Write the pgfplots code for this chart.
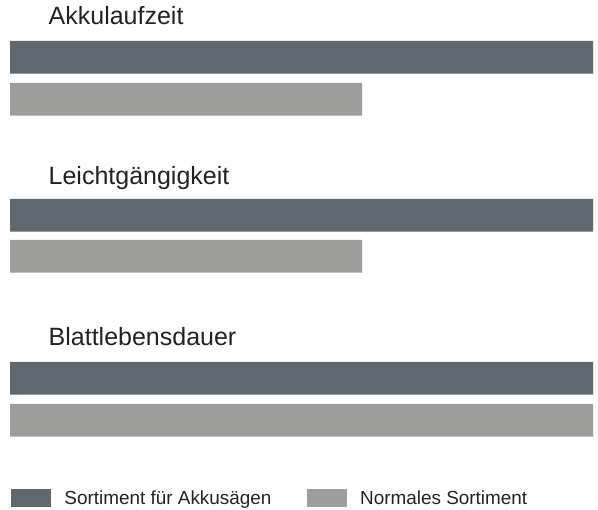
\documentclass[border=0pt]{standalone}
\usepackage{fontspec}
\setmainfont{Liberation Sans}
\usepackage{pgfplots}
\pgfplotsset{compat=1.18}
\definecolor{darkbar}{HTML}{5E686E}
\definecolor{graybar}{HTML}{9D9D9B}
\definecolor{txt}{HTML}{222222}
\begin{document}
\begin{tikzpicture}
\begin{axis}[
  name=ax,
  scale only axis,
  width=598bp, height=510bp,
  xmin=-1.7153, xmax=100.857,
  ymin=0, ymax=510,
  y dir=reverse,
  hide axis,
  clip=false,
  legend columns=2,
  legend image code/.code={\fill[#1] (0bp,-8.8bp) rectangle (40bp,8.8bp);},
  legend style={draw=none, fill=none, at={(axis cs:0.17,498)}, anchor=west,
    inner sep=0pt, outer sep=0pt,
    font=\fontsize{18.9bp}{22bp}\selectfont\color{txt},
    nodes={inner sep=0pt, text depth=0pt},
    cells={anchor=west},
    /tikz/every odd column/.append style={column sep=13.5bp},
    /tikz/every even column/.append style={column sep=35.3bp}},
]
\addplot[xbar, bar shift=0pt, bar width=32.7, fill=darkbar, draw=none]
  coordinates {(100,57.3) (100,215.3) (100,378.3)};
\addlegendentry{Sortiment für Akkusägen}
\addplot[xbar, bar shift=0pt, bar width=32.7, fill=graybar, draw=none]
  coordinates {(60.4,99.3) (60.4,256.3) (100,420.3)};
\addlegendentry{Normales Sortiment}
\node[anchor=base west, inner sep=0pt, text=txt, font=\fontsize{25bp}{30bp}\selectfont] at (axis cs:6.6,25) {Akkulaufzeit};
\node[anchor=base west, inner sep=0pt, text=txt, font=\fontsize{25bp}{30bp}\selectfont] at (axis cs:6.6,185) {Leichtgängigkeit};
\node[anchor=base west, inner sep=0pt, text=txt, font=\fontsize{25bp}{30bp}\selectfont] at (axis cs:6.6,346) {Blattlebensdauer};
\end{axis}
\pgfresetboundingbox
\path[use as bounding box] (ax.south west) rectangle (ax.north east);
\end{tikzpicture}
\end{document}
